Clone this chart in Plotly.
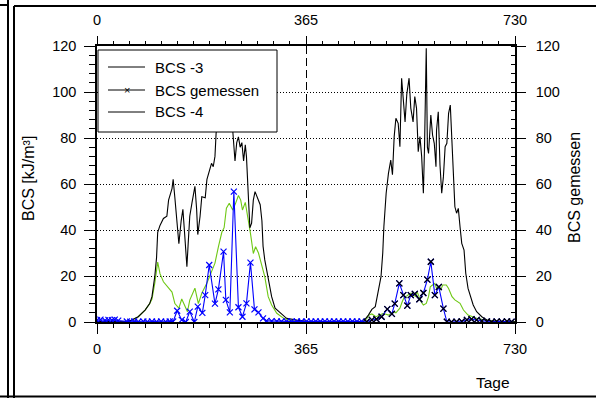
import plotly.graph_objects as go

# ---------------- data ----------------
bcs3_days = [0, 20, 40, 55, 61, 72, 84, 92, 96, 101, 104, 106, 110, 116, 122, 125, 131, 133, 136, 139,
             143, 147, 150, 153, 157, 159, 162, 166, 171, 174, 176, 180, 183, 189, 192, 200, 203, 206,
             208, 212, 216, 220, 224, 228, 232, 235, 237, 241, 244, 247, 250, 253, 256, 259, 261, 264,
             267, 270, 273, 276, 282, 285, 288, 290, 293, 299, 305, 311, 320, 331, 349, 366, 400, 440,
             465, 474, 480, 486, 491, 496, 499, 501, 505, 509, 513, 516, 519, 522, 526, 529, 532, 535,
             538, 541, 545, 548, 552, 555, 558, 561, 564, 567, 570, 572, 575, 577, 579, 583, 586, 589,
             592, 593, 596, 599, 602, 605, 608, 611, 614, 617, 619, 622, 625, 628, 631, 634, 637, 641,
             644, 648, 653, 657, 663, 672, 681, 690, 704, 730]
bcs3_vals = [0.2, 0.2, 0.3, 0.3, 0.9, 2.3, 5.2, 8, 11, 20, 28, 39, 42, 45, 46, 53, 58, 62, 54, 46.5,
             34, 44, 49, 38.5, 24, 33, 46, 52, 59, 49, 38, 46, 54.5, 54, 62, 69, 67.5, 72,
             82, 90, 97, 104, 96, 101, 92, 88, 83.5, 70, 78, 80.5, 76, 78, 70, 77, 72, 57,
             41, 43, 53, 56.7, 53, 51, 44, 33, 27, 19.7, 11, 6, 4, 1.6, 0.8, 0.3, 0.1, 0.1,
             0.2, 3, 5.5, 6.7, 12.5, 19.7, 29.9, 41.4, 56, 64.6, 70.4, 64, 80.6, 88.6, 86.4, 76.2, 106, 95,
             87, 99, 106, 93, 87, 98, 93, 74, 80.6, 71.9, 56, 76.2, 119, 76, 73.3, 90, 81.3, 77.7,
             67.5, 83.5, 91.4, 68.3, 56, 63.2, 76.2, 77.7, 90.7, 94.3, 83.5, 60.3, 50.1, 47.3, 49.4, 41.4, 34.2, 31.3,
             21.2, 14.6, 10.3, 7.4, 4.5, 2.3, 0.9, 0.3, 0.2, 0.1]

bcs4_days = [0, 20, 40, 55, 61, 72, 84, 92, 96, 101, 106, 110, 116, 125, 131, 136, 143, 148, 152, 158,
             162, 171, 177, 183, 192, 198, 206, 212, 218, 222, 226, 231, 237, 242, 247, 251, 254, 259,
             264, 268, 273, 277, 282, 288, 293, 299, 305, 314, 326, 340, 365, 420,
             465, 471, 475, 480, 487, 494, 500, 509, 518, 522, 529, 533, 537, 541, 547, 553, 556, 559,
             562, 566, 570, 575, 579, 582, 586, 590, 593, 597, 600, 604, 610, 614, 620, 625, 634, 640,
             648, 663, 678, 700, 730]
bcs4_vals = [0.2, 0.2, 0.3, 0.3, 0.9, 2.3, 5.2, 8, 10, 17, 26, 21, 17.5, 14.7, 13, 8, 6, 10, 8, 4.5,
             9.5, 14.7, 8, 12.5, 17, 20.4, 25.6, 32.7, 39, 41, 49.5, 51.6, 48.7, 51.6, 55, 53, 48.7, 52,
             45, 38.5, 29.8, 32.7, 30, 24.8, 19.7, 11, 7.4, 3.8, 1.6, 0.5, 0.1, 0.1,
             0.1, 1.5, 3, 3.5, 2.3, 3, 3.8, 3, 4.5, 4, 6, 8.8, 11, 11.3, 12.5, 12.5, 11, 13.2,
             11, 8.8, 7.4, 8.1, 11, 15.3, 16.1, 16.8, 14.6, 15.3, 13.9, 16.1, 16.1, 14.6, 11, 9.6, 8.1, 5.2,
             3, 1.6, 0.8, 0.3, 0.1]

meas_days = [0, 6, 14, 20, 26, 31, 37, 52, 58, 65, 72, 81, 88, 96, 104, 112, 120, 127, 133,
             140, 148, 155, 162, 170, 176, 184, 189, 196, 206, 212, 221, 225, 232, 239, 247, 254, 261,
             268, 275, 282, 290, 296, 305, 314, 322, 331, 340, 349, 357, 366, 374, 382, 390, 398, 406,
             414, 422, 430, 438, 446, 454, 462,
             471, 480, 488, 497, 507, 515, 520, 528, 535, 542, 548, 555, 563, 570, 577, 583, 590, 597,
             605, 611, 619, 628, 637, 646, 654, 663, 672, 681, 689, 698, 707, 716, 724]
meas_vals = [0.8, 1, 0.7, 0.9, 0.8, 1, 0.6, 0.2, 0.1, 0.2, 0.1, 0.2, 0.1, 0.2, 0.1, 0.2, 0.1, 0.2, 0.2,
             4.9, 0.9, 0, 4.5, 0, 6.7, 4, 11.7, 24.8, 8, 14.2, 30.6, 9.6, 4.2, 56.7, 6.4, 2.3, 8.1,
             25.8, 5.5, 4.2, 1.6, 0.5, 0.4, 0.3, 0.2, 0.3, 0.2, 0.3, 0.2, 0.3, 0.2, 0.3, 0.2, 0.3, 0.2,
             0.3, 0.2, 0.3, 0.2, 0.3, 0.2, 0.3,
             0.1, 0.9, 1.2, 2.3, 5.6, 3.5, 8, 16.8, 11.7, 7.1, 11.7, 12.2, 9.9, 12.6, 18.4, 26.2, 11.7, 15.2,
             5.8, 0.1, 0, 0.1, 0.2, 0.9, 1.2, 0.9, 0.5, 0.2, 0, 0.2, 0.1, 0.3, 0.1]
YEAR2_START = 471  # measured points of the second year drawn with black markers

x_ticks = [0, 365, 730]
y_ticks = [0, 20, 40, 60, 80, 100, 120]
legend_labels = ["BCS -3", "BCS gemessen", "BCS -4"]

# ---------------- figure ----------------
W, H = 596, 398
L, R, T, B = 97, 81, 46, 76
PW, PH = W - L - R, H - T - B
def px(x): return (x - L) / PW
def py(y): return (H - B - y) / PH

FONT = "Liberation Sans, Arial, sans-serif"
GREEN = "rgb(110,200,20)"
BLUE = "rgb(0,0,255)"

fig = go.Figure()
fig.add_trace(go.Scatter(x=bcs4_days, y=bcs4_vals, mode="lines",
                         line=dict(color=GREEN, width=1.1), showlegend=False))
fig.add_trace(go.Scatter(x=bcs3_days, y=bcs3_vals, mode="lines",
                         line=dict(color="black", width=1.1), showlegend=False))
fig.add_trace(go.Scatter(x=meas_days, y=meas_vals, mode="lines+markers",
                         line=dict(color=BLUE, width=1.1),
                         marker=dict(symbol="x-thin", size=6, line=dict(color=BLUE, width=1.2)),
                         showlegend=False))
y2_days = [d for d in meas_days if d >= YEAR2_START]
y2_vals = [v for d, v in zip(meas_days, meas_vals) if d >= YEAR2_START]
fig.add_trace(go.Scatter(x=y2_days, y=y2_vals, mode="markers",
                         marker=dict(symbol="x-thin", size=6, line=dict(color="black", width=1.2)),
                         showlegend=False))
# invisible trace to create the secondary (top / right) axes
fig.add_trace(go.Scatter(x=[0, 730], y=[0, 120], xaxis="x2", yaxis="y2", mode="markers",
                         marker=dict(opacity=0), hoverinfo="skip", showlegend=False))

tickfont = dict(family=FONT, size=14.5, color="black")
fig.update_layout(
    width=W, height=H, margin=dict(l=L, r=R, t=T, b=B, pad=0),
    paper_bgcolor="white", plot_bgcolor="white", showlegend=False,
    xaxis=dict(range=[0, 730], tickvals=x_ticks, ticks="outside", ticklen=10, tickwidth=1,
               tickcolor="black", showline=True, linecolor="black", linewidth=1.5,
               showgrid=False, zeroline=False, tickfont=tickfont, ticklabelstandoff=3,
               minor=dict(tick0=0, dtick=365 / 13, ticks="outside", ticklen=4, tickcolor="black",
                          showgrid=False)),
    xaxis2=dict(range=[0, 730], tickvals=x_ticks, overlaying="x", side="top", anchor="y2",
                ticks="outside", ticklen=8, tickwidth=1, tickcolor="black",
                showline=True, linecolor="black", linewidth=1.5,
                showgrid=True, gridcolor="black", griddash="8px,4px", gridwidth=1,
                zeroline=False, tickfont=tickfont, ticklabelstandoff=5,
                minor=dict(tick0=0, dtick=365 / 13, ticks="outside", ticklen=3, tickcolor="black",
                           showgrid=False)),
    yaxis=dict(range=[0, 120], tickvals=y_ticks, ticks="outside", ticklen=11, tickwidth=1,
               tickcolor="black", showline=True, linecolor="black", linewidth=1.5,
               showgrid=True, gridcolor="black", griddash="1px,2px", gridwidth=1,
               zeroline=False, tickfont=tickfont, ticklabelstandoff=5,
               minor=dict(dtick=4, ticks="outside", ticklen=6, tickcolor="black", showgrid=False)),
    yaxis2=dict(range=[0, 120], tickvals=y_ticks, overlaying="y", side="right", anchor="x2",
                ticks="outside", ticklen=9, tickwidth=1, tickcolor="black",
                showline=True, linecolor="black", linewidth=1.5, showgrid=False,
                zeroline=False, tickfont=tickfont, ticklabelstandoff=7,
                minor=dict(dtick=4, ticks="inside", ticklen=4, tickcolor="black", showgrid=False)),
)

shapes = []
annotations = []
# legend box (manual, drawn above the curves)
shapes.append(dict(type="rect", xref="paper", yref="paper", x0=px(98), x1=px(277), y0=py(132), y1=py(50),
                   line=dict(color="black", width=1), fillcolor="white", layer="above"))
rows = [67, 90, 112]
for lab, yy in zip(legend_labels, rows):
    shapes.append(dict(type="line", xref="paper", yref="paper", x0=px(108), x1=px(145), y0=py(yy), y1=py(yy),
                       line=dict(color="black", width=1), layer="above"))
    annotations.append(dict(text=lab, xref="paper", yref="paper", x=px(153), y=py(yy), xanchor="left",
                            yanchor="middle", showarrow=False, font=dict(family=FONT, size=15, color="black")))
annotations.append(dict(text="×", xref="paper", yref="paper", x=px(126.5), y=py(90), xanchor="center",
                        yanchor="middle", showarrow=False, font=dict(family=FONT, size=11, color="black")))

# axis titles
annotations.append(dict(text="BCS [kJ/m³]", xref="paper", yref="paper", x=px(28), y=py(179),
                        textangle=-90, showarrow=False, xanchor="center", yanchor="middle",
                        font=dict(family=FONT, size=16, color="black")))
annotations.append(dict(text="BCS gemessen", xref="paper", yref="paper", x=px(574), y=py(188),
                        textangle=-90, showarrow=False, xanchor="center", yanchor="middle",
                        font=dict(family=FONT, size=16, color="black")))
annotations.append(dict(text="Tage", xref="paper", yref="paper", x=px(493), y=py(382),
                        showarrow=False, xanchor="center", yanchor="middle",
                        font=dict(family=FONT, size=15.5, color="black")))

# frame lines of the page
frame = [
    (0, 5, 8, 5), (14, 6, 596, 6), (8, 0, 8, 398), (14, 6, 14, 398), (0, 396.5, 596, 396.5),
]
for x0, y0, x1, y1 in frame:
    shapes.append(dict(type="line", xref="paper", yref="paper", x0=px(x0), x1=px(x1), y0=py(y0), y1=py(y1),
                       line=dict(color="black", width=2), layer="above"))

fig.update_layout(shapes=shapes, annotations=annotations)
fig.write_html("out.html")
